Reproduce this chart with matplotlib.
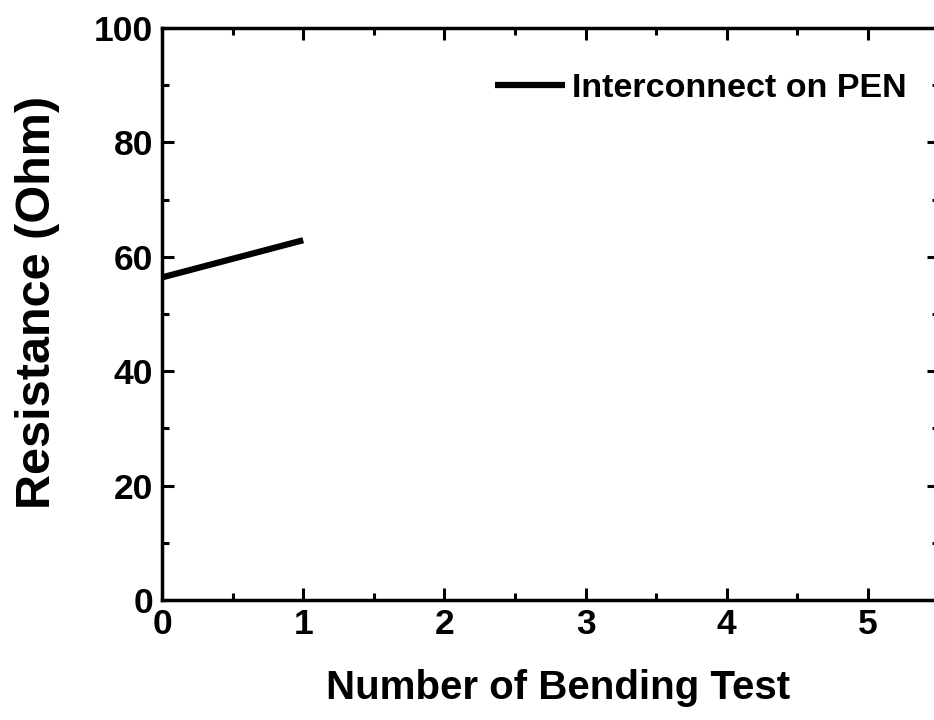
import matplotlib
matplotlib.use("Agg")
import matplotlib.pyplot as plt
from matplotlib.ticker import MultipleLocator

# Resistance measured after each bending cycle
bending_tests = [0, 1]
resistance_ohm = [56.4, 62.9]
series_label = "Interconnect on PEN"

x_ticks = [0, 1, 2, 3, 4, 5]
y_ticks = [0, 20, 40, 60, 80, 100]

plt.rcParams["font.family"] = ["Liberation Sans", "DejaVu Sans"]
plt.rcParams["font.weight"] = "bold"

fig = plt.figure(figsize=(9.34, 7.2), dpi=100)
ax = fig.add_axes([162 / 934, 120 / 720, 776.6 / 934, 572 / 720])

ax.plot(bending_tests, resistance_ohm, color="black", linewidth=4.5,
        solid_capstyle="butt", label=series_label)

ax.set_xlim(0, 5.5)
ax.set_ylim(0, 100)
ax.set_xticks(x_ticks)
ax.set_yticks(y_ticks)
ax.xaxis.set_minor_locator(MultipleLocator(0.5))
ax.yaxis.set_minor_locator(MultipleLocator(10))

for side in ax.spines.values():
    side.set_linewidth(2.5)

ax.tick_params(which="both", direction="in", top=True, right=True, width=2.2)
ax.tick_params(which="major", length=8.5, labelsize=25.5)
ax.tick_params(which="minor", length=5)
ax.tick_params(axis="x", which="major", pad=6)
ax.tick_params(axis="y", which="major", pad=6.5)
for lbl in ax.get_xticklabels() + ax.get_yticklabels():
    lbl.set_fontweight("bold")

ax.set_xlabel("Number of Bending Test", fontsize=29, fontweight="bold", labelpad=20)
ax.set_ylabel("Resistance (Ohm)", fontsize=35, fontweight="bold", labelpad=24)
ax.xaxis.label.set_x(0.51)
ax.yaxis.label.set_y(0.52)

leg = ax.legend(loc="center left", bbox_to_anchor=((495 - 162) / 776.6, (600 - 88) / 572),
                frameon=False, fontsize=24.5, handlelength=2.05, handletextpad=0.2,
                borderpad=0, borderaxespad=0)
for t in leg.get_texts():
    t.set_fontweight("bold")
for h in leg.get_lines():
    h.set_linewidth(4.5)

fig.savefig("out.png", dpi=100)
